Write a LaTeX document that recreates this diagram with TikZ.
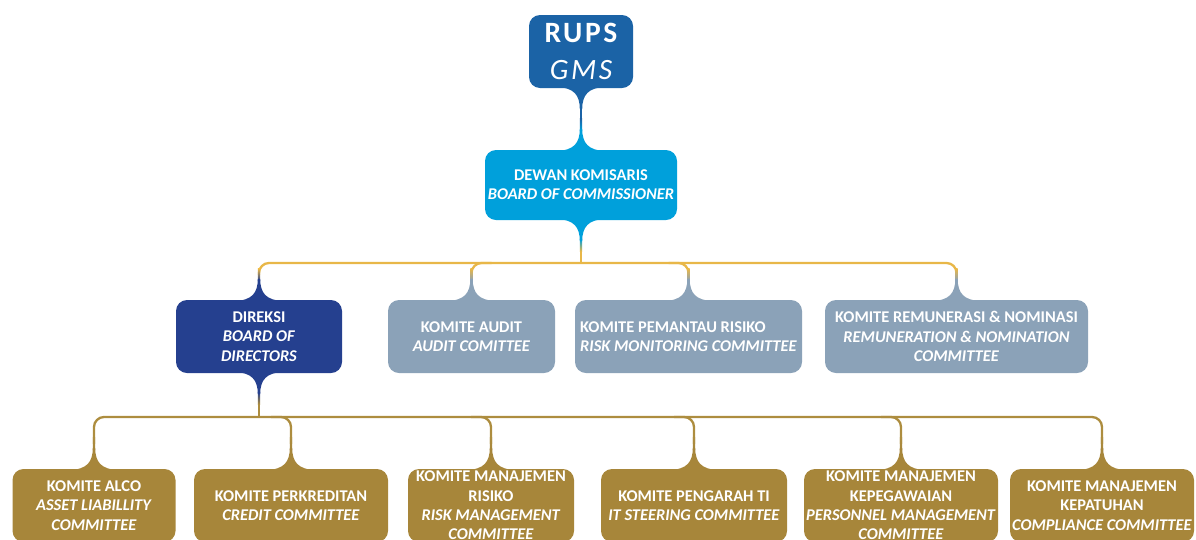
\documentclass[tikz,border=0pt]{standalone}
\usepackage{fontspec}
\setmainfont{Carlito}
\usetikzlibrary{calc}
\definecolor{rupsblue}{RGB}{27,99,166}
\definecolor{dkblue}{RGB}{0,160,219}
\definecolor{dirnavy}{RGB}{37,64,143}
\definecolor{komgrey}{RGB}{139,162,184}
\definecolor{komgold}{RGB}{167,134,58}
\definecolor{lineup}{RGB}{232,183,72}
\definecolor{linelow}{RGB}{173,141,63}
\newcommand\fs{\fontsize{16.4}{19.3}\selectfont}
\newcommand\flareN[2]{%
  \fill[#2] ($(#1.north)+(-25,1)$) .. controls ($(#1.north)+(-7,1)$) and ($(#1.north)+(-1.2,-7)$) .. ($(#1.north)+(-1.2,-21)$)
    -- ($(#1.north)+(1.2,-21)$) .. controls ($(#1.north)+(1.2,-7)$) and ($(#1.north)+(7,1)$) .. ($(#1.north)+(25,1)$) -- cycle;}
\newcommand\flareS[2]{%
  \fill[#2] ($(#1.south)+(-25,-1)$) .. controls ($(#1.south)+(-7,-1)$) and ($(#1.south)+(-1.2,7)$) .. ($(#1.south)+(-1.2,21)$)
    -- ($(#1.south)+(1.2,21)$) .. controls ($(#1.south)+(1.2,7)$) and ($(#1.south)+(7,-1)$) .. ($(#1.south)+(25,-1)$) -- cycle;}
\newcommand\fadeN[3]{%
  \shade[top color=#2, bottom color=#3] ($(#1.north)+(-1.15,-31)$) rectangle ($(#1.north)+(1.15,-19)$);}
\newcommand\fadeS[3]{%
  \shade[top color=#3, bottom color=#2] ($(#1.south)+(-1.15,19)$) rectangle ($(#1.south)+(1.15,31)$);}
\tikzset{
  box/.style={rounded corners=11pt, minimum height=73pt, inner sep=0pt, align=center,
    text=white, font=\bfseries\fs},
  lineU/.style={draw=lineup, line width=2.3pt, rounded corners=10pt},
  lineL/.style={draw=linelow, line width=2.3pt, rounded corners=10pt},
  lineB/.style={draw=rupsblue, line width=2.6pt},
}
\begin{document}
\begin{tikzpicture}[x=1pt,y=-1pt]
\useasboundingbox (0,0) rectangle (1196,539);
\clip (0,0) rectangle (1196,539);
% boxes
\node[box, fill=rupsblue, minimum width=104pt, font=\bfseries\fontsize{29.5}{37}\selectfont] (rups) at (581,51.5)
  {{\addfontfeature{LetterSpace=9}RUPS}\\{\mdseries\itshape\addfontfeature{LetterSpace=9}GMS}};
\node[box, fill=dkblue, minimum width=192pt, minimum height=70pt] (dk) at (581,185)
  {DEWAN KOMISARIS\\\textit{BOARD OF COMMISSIONER}};
\node[box, fill=dirnavy, minimum width=166pt] (dir) at (259,336.5)
  {DIREKSI\\\textit{BOARD OF}\\\textit{DIRECTORS}};
\node[box, fill=komgrey, minimum width=167pt] (aud) at (471.5,336.5)
  {KOMITE AUDIT\\\textit{AUDIT COMITTEE}};
\node[box, fill=komgrey, minimum width=227pt, align=left] (pem) at (688.5,336.5)
  {KOMITE PEMANTAU RISIKO\\\textit{RISK MONITORING COMMITTEE}};
\node[box, fill=komgrey, minimum width=263pt] (rem) at (956.5,336.5)
  {KOMITE REMUNERASI \& NOMINASI\\\textit{REMUNERATION \& NOMINATION}\\\textit{COMMITTEE}};
\node[box, fill=komgold, minimum width=163pt] (alco) at (94,505.5)
  {KOMITE ALCO\\\textit{ASSET LIABILLITY}\\\textit{COMMITTEE}};
\node[box, fill=komgold, minimum width=194pt] (perk) at (291,505.5)
  {KOMITE PERKREDITAN\\\textit{CREDIT COMMITTEE}};
\node[box, fill=komgold, minimum width=166pt] (risk) at (491,505.5)
  {KOMITE MANAJEMEN\\RISIKO\\\textit{RISK MANAGEMENT}\\\textit{COMMITTEE}};
\node[box, fill=komgold, minimum width=186pt] (it) at (694,505.5)
  {KOMITE PENGARAH TI\\\textit{IT STEERING COMMITTEE}};
\node[box, fill=komgold, minimum width=194pt] (kepeg) at (901,505.5)
  {KOMITE MANAJEMEN\\KEPEGAWAIAN\\\textit{PERSONNEL MANAGEMENT}\\\textit{COMMITTEE}};
\node[box, fill=komgold, minimum width=184pt] (kepat) at (1102,505.5)
  {KOMITE MANAJEMEN\\KEPATUHAN\\\textit{COMPLIANCE COMMITTEE}};
% coordinates of the two buses
\coordinate (busU) at (581,263);
\coordinate (busL) at (259,417);
% RUPS -> Dewan
\draw[lineB] ($(rups.south)+(0,15)$) -- ($(dk.north)+(0,-20)$);
\flareS{rups}{rupsblue}
\fadeN{dk}{rupsblue}{dkblue}
\flareN{dk}{dkblue}
% Dewan -> upper bus
\draw[lineU] ($(dk.south)+(0,25)$) -- (dk.south |- busU);
\fadeS{dk}{lineup}{dkblue}
\flareS{dk}{dkblue}
\draw[lineU] ($(dir.north)+(0,-25)$) |- (busU) -| ($(rem.north)+(0,-25)$);
\draw[lineU] ($(aud.north)+(0,-25)$) |- ($(aud.north |- busU)+(20,0)$);
\draw[lineU] ($(pem.north)+(0,-25)$) |- ($(pem.north |- busU)+(-20,0)$);
\foreach \n/\c in {dir/dirnavy, aud/komgrey, pem/komgrey, rem/komgrey}{
  \fadeN{\n}{lineup}{\c}
  \flareN{\n}{\c}
}
% Direksi -> lower bus
\draw[lineL] ($(dir.south)+(0,25)$) -- (dir.south |- busL);
\fadeS{dir}{linelow}{dirnavy}
\flareS{dir}{dirnavy}
\draw[lineL] ($(alco.north)+(0,-25)$) |- (busL) -| ($(kepat.north)+(0,-25)$);
\foreach \n in {perk, risk, it, kepeg}{
  \draw[lineL] ($(\n.north |- busL)+(-20,0)$) -| ($(\n.north)+(0,-25)$);
}
\foreach \n in {alco, perk, risk, it, kepeg, kepat}{
  \fadeN{\n}{linelow}{komgold}
  \flareN{\n}{komgold}
}
\end{tikzpicture}
\end{document}
